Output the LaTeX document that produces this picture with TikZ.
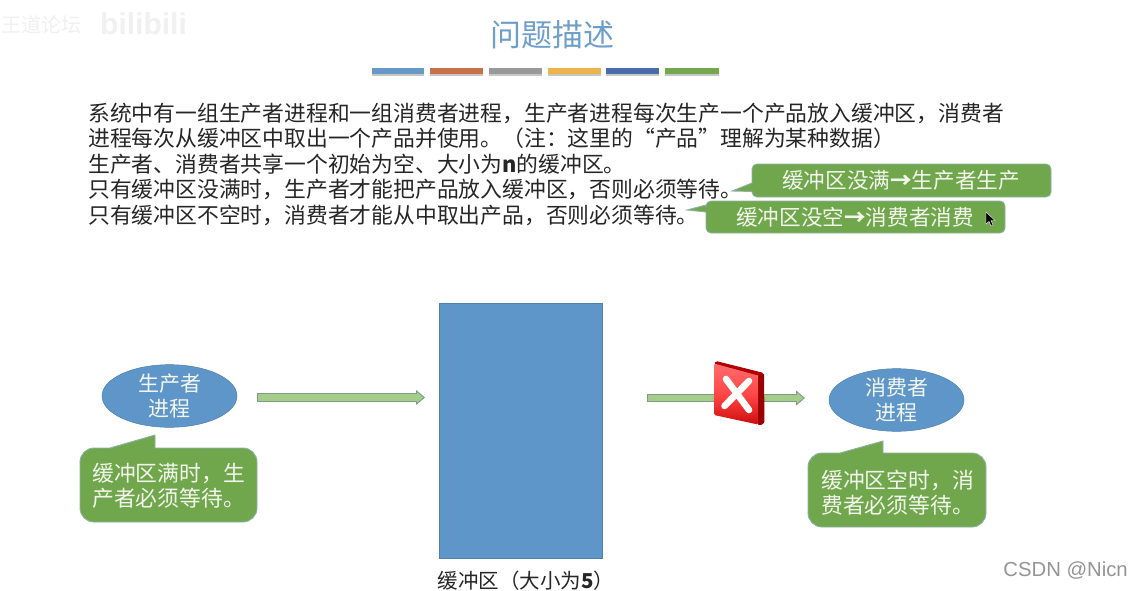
\documentclass[tikz,border=0pt]{standalone}
\usepackage{fontspec}
\setmainfont{Noto Sans CJK SC}
\newfontfamily\latinsans{Liberation Sans}
\usetikzlibrary{arrows.meta,shapes.geometric}
\definecolor{titleblue}{HTML}{6E9FCA}
\definecolor{boxblue}{HTML}{5F96C9}
\definecolor{boxedge}{HTML}{4F80AD}
\definecolor{callgreen}{HTML}{70A74C}
\definecolor{calledge}{HTML}{8FB0A8}
\definecolor{arrowfill}{HTML}{A6CC8C}
\definecolor{arrowedge}{HTML}{7C9E86}
\definecolor{bodyink}{HTML}{262626}
\definecolor{textwhite}{HTML}{F2F6EC}
\tikzset{
  x=1pt,y=-1pt,
  bodyline/.style={anchor=west,inner sep=0pt,text=bodyink,font=\fontsize{21.8}{26}\selectfont},
  callout/.style={fill=callgreen,draw=calledge,line width=0.9pt},
  calltext/.style={anchor=center,inner sep=0pt,text=textwhite,font=\fontsize{21.6}{26}\selectfont},
  calltwo/.style={anchor=west,inner sep=0pt,text=textwhite,font=\fontsize{21.8}{25}\selectfont},
  procnode/.style={ellipse,fill=boxblue,draw=boxedge,line width=0.5pt,minimum width=135pt,minimum height=62pt,inner sep=0pt,text=textwhite,align=center,font=\fontsize{21}{25}\selectfont},
  barshadow/.style={fill=black!22,draw=none},
  shaftouter/.style={draw=arrowedge,line width=8.5pt},
  shaftinner/.style={draw=arrowfill,line width=6.5pt},
}
\begin{document}
\begin{tikzpicture}
\useasboundingbox (0,0) rectangle (1132,591);
\fill[white] (0,0) rectangle (1132,591);

% faint watermark
\node[anchor=west,inner sep=0pt,text=black!6,font=\fontsize{20}{24}\selectfont] (wmcn) at (1,25) {王道论坛};
\node[anchor=west,inner sep=0pt,text=black!6,font=\latinsans\bfseries\fontsize{30}{34}\selectfont] (wmbili) at (100,24) {bilibili};

% title
\node[inner sep=0pt,text=titleblue,font=\fontsize{31}{36}\selectfont] (title) at (552,35) {问题描述};

% title bars
\foreach \xa/\xb/\c in {372/424/6699C8,430/483/C8704A,489/542/999999,548/601/EBB44C,606/659/4A6AAA,665/719/74A850}{
  \fill[barshadow] (\xa,70) rectangle (\xb,76);
  \definecolor{barc}{HTML}{\c}
  \fill[barc] (\xa,68) rectangle (\xb,74);
}

% body
\node[bodyline] (l1) at (88,113) {系统中有一组生产者进程和一组消费者进程，生产者进程每次生产一个产品放入缓冲区，消费者};
\node[bodyline] (l2) at (88,138) {进程每次从缓冲区中取出一个产品并使用。（注：这里的“产品”理解为某种数据）};
\node[bodyline] (l3) at (88,164) {生产者、消费者共享一个初始为空、大小为\textbf{n}的缓冲区。};
\node[bodyline] (l4) at (88,189) {只有缓冲区没满时，生产者才能把产品放入缓冲区，否则必须等待。};
\node[bodyline] (l5) at (88,215) {只有缓冲区不空时，消费者才能从中取出产品，否则必须等待。};

% top callouts
\draw[callout] [sharp corners] (732,191) -- (752,183) [rounded corners=5] -- (752,164) -- (1051,164) -- (1051,197) -- (752,197) [sharp corners] -- (752,191.5) -- cycle;
\node[calltext] (c1) at (901,180) {缓冲区没满\textbf{→}生产者生产};
\draw[callout] [sharp corners] (687,210) -- (706,205) [rounded corners=5] -- (706,201) -- (1005,201) -- (1005,233) -- (706,233) [sharp corners] -- (706,212) -- cycle;
\node[calltext] (c2) at (855,217) {缓冲区没空\textbf{→}消费者消费};

% cursor
\draw[fill=black,draw=white,line width=0.4pt] (986,212) -- (986,224) -- (989,221.5) -- (991,226) -- (993,225) -- (991,220.5) -- (995,220.5) -- cycle;

% buffer
\fill[boxblue,draw=boxedge,line width=0.6pt] (439,303) rectangle (602,558);
\node[inner sep=0pt,text=bodyink,font=\fontsize{20.5}{25}\selectfont] (buflabel) at (526,581) {缓冲区（大小为\textbf{5}）};

% processes
\node[procnode] (prod) at (169.5,396) {\raisebox{-1pt}{生产者}\\\raisebox{-1pt}{进程}};
\node[procnode] (cons) at (896.5,400) {\raisebox{-1pt}{消费者}\\\raisebox{-1pt}{进程}};

% arrows
\coordinate (al1) at (257,397.5);
\coordinate (al2) at (425,397.5);
\coordinate (ar1) at (647,398);
\coordinate (ar2) at (805,398);
\draw[shaftouter,-{Triangle[length=9pt,width=15pt,line width=0.9pt,color=arrowedge,fill=arrowfill,sep=0pt]}] (al1) -- (al2);
\draw[shaftinner] ([xshift=1pt]al1) -- ([xshift=-8.5pt]al2);
\draw[shaftouter,-{Triangle[length=9pt,width=15pt,line width=0.9pt,color=arrowedge,fill=arrowfill,sep=0pt]}] (ar1) -- (ar2);
\draw[shaftinner] ([xshift=1pt]ar1) -- ([xshift=-8.5pt]ar2);

% red cross icon
\fill[rounded corners=1.5pt,fill=red!60!black] (758,374) -- (764,373) -- (764.5,423) -- (760,425.5) -- (757,424) -- cycle;
\fill[rounded corners=1.5pt,fill=red!70!black] (716,361) -- (764,373) -- (758,376) -- (714,364) -- cycle;
\shade[top color=red!50!white!85!red,bottom color=red!80!black!95!white,middle color=red!65!white!80!red,rounded corners=1.5pt] (714,363.5) -- (758,375.5) -- (758,424.5) -- (714,415) -- cycle;
\draw[white,line width=6.6pt,line cap=round] (726,379) -- (749,410);
\draw[white,line width=6.6pt,line cap=round] (749,381) -- (724.5,406);

% lower callouts
\draw[callout] [sharp corners] (155,435) -- (155,448) [rounded corners=14] -- (257,448) -- (257,522) -- (80,522) -- (80,448) [sharp corners] -- (110,448) -- cycle;
\node[calltwo] (n1a) at (92,474) {缓冲区满时，生};
\node[calltwo] (n1b) at (92,498.5) {产者必须等待。};
\draw[callout] [sharp corners] (883,441) -- (883,453) [rounded corners=14] -- (986,453) -- (986,527) -- (808,527) -- (808,453) [sharp corners] -- (840,453) -- cycle;
\node[calltwo] (n2a) at (821,480) {缓冲区空时，消};
\node[calltwo] (n2b) at (821,505) {费者必须等待。};

% csdn mark
\node[anchor=east,inner sep=0pt,text=black!42,font=\latinsans\fontsize{20.3}{24}\selectfont] (csdn) at (1128,571) {CSDN @Nicn};
\end{tikzpicture}
\end{document}
